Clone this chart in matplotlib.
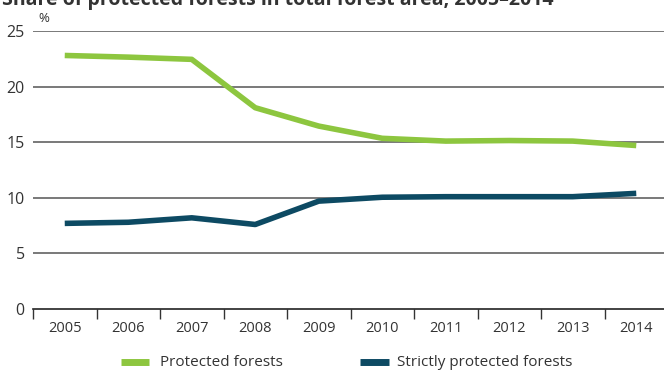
import matplotlib
matplotlib.use("Agg")
import matplotlib.pyplot as plt
from matplotlib.lines import Line2D

years = ["2005", "2006", "2007", "2008", "2009", "2010", "2011", "2012", "2013", "2014"]
protected = [22.8, 22.65, 22.45, 18.1, 16.45, 15.35, 15.1, 15.15, 15.1, 14.7]
strictly = [7.7, 7.8, 8.2, 7.6, 9.7, 10.05, 10.1, 10.1, 10.1, 10.4]
yticks = [0, 5, 10, 15, 20, 25]
series_names = ["Protected forests", "Strictly protected forests"]

green = "#8dc63f"
navy = "#0d4a63"
txt = "#333333"

plt.rcParams['font.family'] = ['Open Sans', 'DejaVu Sans']
fs = 10.5

W, H = 664, 370
fig = plt.figure(figsize=(W / 100, H / 100), dpi=100)
left, right = 33 / W, 668 / W
top, bottom = 1 - 31 / H, 1 - 309 / H
ax = fig.add_axes([left, bottom, right - left, top - bottom])

x = list(range(len(years)))
ax.plot(x, protected, color=green, lw=4, solid_capstyle='butt', zorder=3)
ax.plot(x, strictly, color=navy, lw=4, solid_capstyle='butt', zorder=3)

ax.set_xlim(-0.5, 9.5)
ax.set_ylim(0, 25)
ax.set_yticks(yticks)
ax.set_yticklabels([str(v) for v in yticks], fontsize=fs + 1, color=txt)
for v in yticks[1:]:
    ax.axhline(v, color="#555555", lw=1.1, zorder=1)
ax.set_xticks([i - 0.5 for i in range(len(years))])
ax.set_xticklabels([])
ax.set_xticks(x, minor=True)
ax.set_xticklabels(years, minor=True, fontsize=fs, color=txt)
ax.tick_params(axis='x', which='major', length=7, width=1, color="#333333", direction='out')
ax.tick_params(axis='x', which='minor', length=0, pad=9)
ax.tick_params(axis='y', length=0, pad=6)
for s in ['top', 'right', 'left']:
    ax.spines[s].set_visible(False)
ax.spines['bottom'].set_color("#222222")
ax.spines['bottom'].set_linewidth(1.2)

fig.text(38 / W, 1 - 18 / H, "%", fontsize=fs - 1, color=txt, ha='left', va='center')
fig.text(2 / W, 1 - 0 / H, "Share of protected forests in total forest area, 2005\u20132014",
         fontsize=14, fontweight='bold', color=txt, ha='left', va='center')

# legend
ly = 1 - 362 / H
for (x0, x1, tx), c, name in zip([(121, 149, 160), (360, 389, 397)], [green, navy], series_names):
    fig.add_artist(Line2D([x0 / W, x1 / W], [ly, ly], color=c, lw=5, solid_capstyle='butt'))
    fig.text(tx / W, ly, name, fontsize=fs + 0.5, color=txt, ha='left', va='center')

fig.savefig("out.png", dpi=100)
